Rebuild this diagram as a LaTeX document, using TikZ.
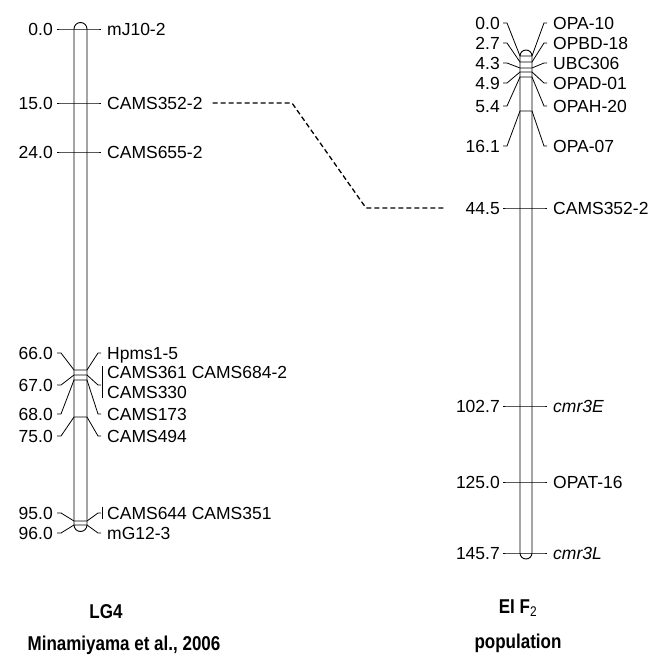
\documentclass[tikz,border=0pt]{standalone}
\usepackage{fontspec}
\setmainfont{Liberation Sans}
\usetikzlibrary{calc}
\tikzset{
  chrom/.style ={draw=black, line width=0.9pt, fill=white},
  tick/.style  ={draw=black, line width=0.8pt},
  posnum/.style={anchor=east, inner sep=0pt, text height=12.5pt, text depth=0pt,
                 font=\fontsize{17.5}{20}\selectfont},
  mname/.style ={anchor=west, inner sep=0pt, text height=12.5pt, text depth=0pt,
                 font=\fontsize{17.5}{20}\selectfont},
  link/.style  ={draw=black, line width=1.3pt, dash pattern=on 5pt off 3pt},
  title/.style ={inner sep=0pt, xscale=0.85, transform shape,
                 font=\bfseries\fontsize{20}{24}\selectfont},
}

\begin{document}
\begin{tikzpicture}[x=1pt,y=-1pt]
\useasboundingbox (0,0) rectangle (665,659);
\fill[white] (0,0) rectangle (665,659);

% LG4 (left)
\draw[chrom] (74,29) -- (74,525) arc[start angle=180,end angle=0,radius=6.5]
  -- (87,29) arc[start angle=0,end angle=-180,radius=6.5] -- cycle;
\foreach \p/\cy/\ly/\ry/\nm [count=\i] in {
  0.0/29/29/29/mJ10-2, 15.0/103/103/103/CAMS352-2, 24.0/152/152/152/CAMS655-2,
  66.0/370/353/353/Hpms1-5, 67.0/375/385/385/{}, 68.0/380/414/414/CAMS173,
  75.0/417/436/436/CAMS494, 95.0/521/513/513/{}, 96.0/525/533/533/mG12-3}{
  \node[posnum] (lpA\i) at (53,\ly) {\p};
  \node[mname] (lmA\i) at (107,\ry) {\nm};
  \draw[tick] ([xshift=4pt]lpA\i.east) -- ++(4,0) -- (74,\cy) -- (87,\cy)
    -- (98,\ry) -- ([xshift=-6pt]lmA\i.west);
}
\node[mname] (cams361) at (107,372) {CAMS361 CAMS684-2};
\node[mname] (cams330) at (107,392) {CAMS330};
\draw[tick] ([xshift=-5pt]cams361.north west) -- ([xshift=-5pt]cams330.south west);
\node[mname] (cams644) at (107,513) {CAMS644 CAMS351};
\draw[tick] ([xshift=-5pt]cams644.north west) -- ([xshift=-5pt]cams644.south west);

% EI F2 (right)
\draw[chrom] (520,56) -- (520,553) arc[start angle=180,end angle=0,radius=6]
  -- (532,56) arc[start angle=0,end angle=-180,radius=6] -- cycle;
\foreach \p/\cy/\ly/\nm [count=\i] in {
  0.0/56/23/OPA-10, 2.7/62/43/OPBD-18, 4.3/68/63/UBC306, 4.9/72/83/OPAD-01,
  5.4/77/106/OPAH-20, 16.1/111/146/OPA-07, 44.5/208/208/CAMS352-2,
  102.7/406/406/\textit{cmr3E}, 125.0/482/482/OPAT-16, 145.7/553/553/\textit{cmr3L}}{
  \node[posnum] (lpB\i) at (500,\ly) {\p};
  \node[mname] (lmB\i) at (553,\ly) {\nm};
  \draw[tick] ([xshift=3pt]lpB\i.east) -- ++(4,0) -- (520,\cy) -- (532,\cy)
    -- (544,\ly) -- ([xshift=-6pt]lmB\i.west);
}

% common marker
\coordinate (d1) at (292,103);
\coordinate (d2) at (366,208);
\draw[link, shorten <=10pt, shorten >=20pt] (lmA2.east) -- (d1) -- (d2) -- (lpB7.west);

\node[title] (lg4) at (106,612) {LG4};
\node[title] (refA) at (124,645) {Minamiyama et al., 2006};
\node[title] (eif2) at (518,608) {EI F\textsubscript{\mdseries 2}};
\node[title] (popB) at (518,643) {population};
\end{tikzpicture}
\end{document}
